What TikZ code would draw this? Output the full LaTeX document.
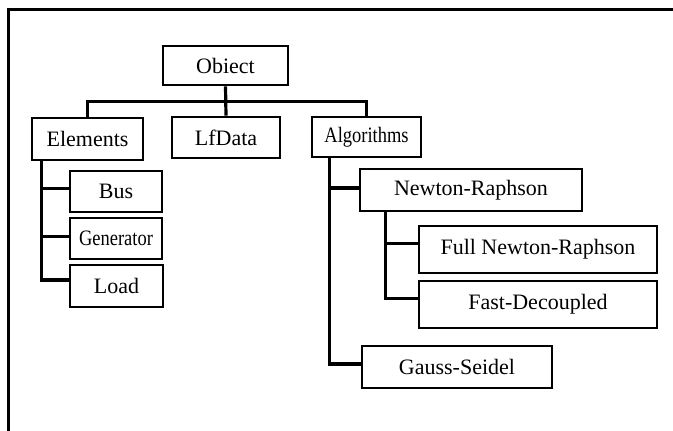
\documentclass[tikz,border=0pt]{standalone}
\usepackage{fontspec}
\setmainfont{Liberation Serif}
\usetikzlibrary{positioning}

\begin{document}
\begin{tikzpicture}[
    x=1pt, y=-1pt,
    cls/.style={draw, line width=2.9pt, inner sep=0pt, align=center, font=\fontsize{22}{26}\selectfont},
    narrow/.style={font=\fontsize{22}{26}\selectfont\addfontfeatures{FakeStretch=0.84}},
    link/.style={line width=3.2pt},
    frame/.style={line width=3pt}
]
\useasboundingbox (0,0) rectangle (673,431);
\draw[frame] (8,431) -- (8,9) -- (673,9);

% top level
\node[cls, minimum width=125, minimum height=39] (object) at (225.5,65.5) {Obiect};
\node[cls, minimum width=111, minimum height=42] (elements) at (87.5,139) {Elements};
\node[cls, minimum width=108, minimum height=41] (lfdata) at (226,137.5) {LfData};
\node[cls, narrow, minimum width=109, minimum height=40] (algorithms) at (366.5,137) {Algorithms};

% elements
\node[cls, minimum width=92, minimum height=41] (bus) at (116,191.5) {Bus};
\node[cls, narrow, minimum width=92, minimum height=41] (generator) at (116,238.5) {Generator};
\node[cls, minimum width=93, minimum height=42] (load) at (116.5,286) {Load};

% algorithms
\node[cls, minimum width=222, minimum height=42] (newton) at (471,190) {Newton-Raphson};
\node[cls, minimum width=238, minimum height=47] (fullnewton) at (538,249.5) {Full Newton-Raphson};
\node[cls, minimum width=238, minimum height=47] (fastdec) at (538,304.5) {Fast-Decoupled};
\node[cls, minimum width=190, minimum height=42] (gauss) at (457,367) {Gauss-Seidel};

% connectors
\draw[link] (object.south) -- (lfdata.north);
\draw[link] (elements.north) -- ++(0,-15) -| (algorithms.north);

\coordinate (etrunk) at ([xshift=11]elements.south west);
\draw[link] (etrunk) |- ([yshift=6]load.west);
\draw[link] ([yshift=3]bus.west) -- ([yshift=3]bus.west -| etrunk);
\draw[link] ([yshift=2]generator.west) -- ([yshift=2]generator.west -| etrunk);

\coordinate (atrunk) at ([xshift=19]algorithms.south west);
\draw[link] (atrunk) |- ([yshift=3]gauss.west);
\draw[link] ([yshift=2]newton.west) -- ([yshift=2]newton.west -| atrunk);

\coordinate (ntrunk) at ([xshift=27]newton.south west);
\draw[link] (ntrunk) |- ([yshift=6]fastdec.west);
\draw[link] ([yshift=6]fullnewton.west) -- ([yshift=6]fullnewton.west -| ntrunk);
\end{tikzpicture}
\end{document}
